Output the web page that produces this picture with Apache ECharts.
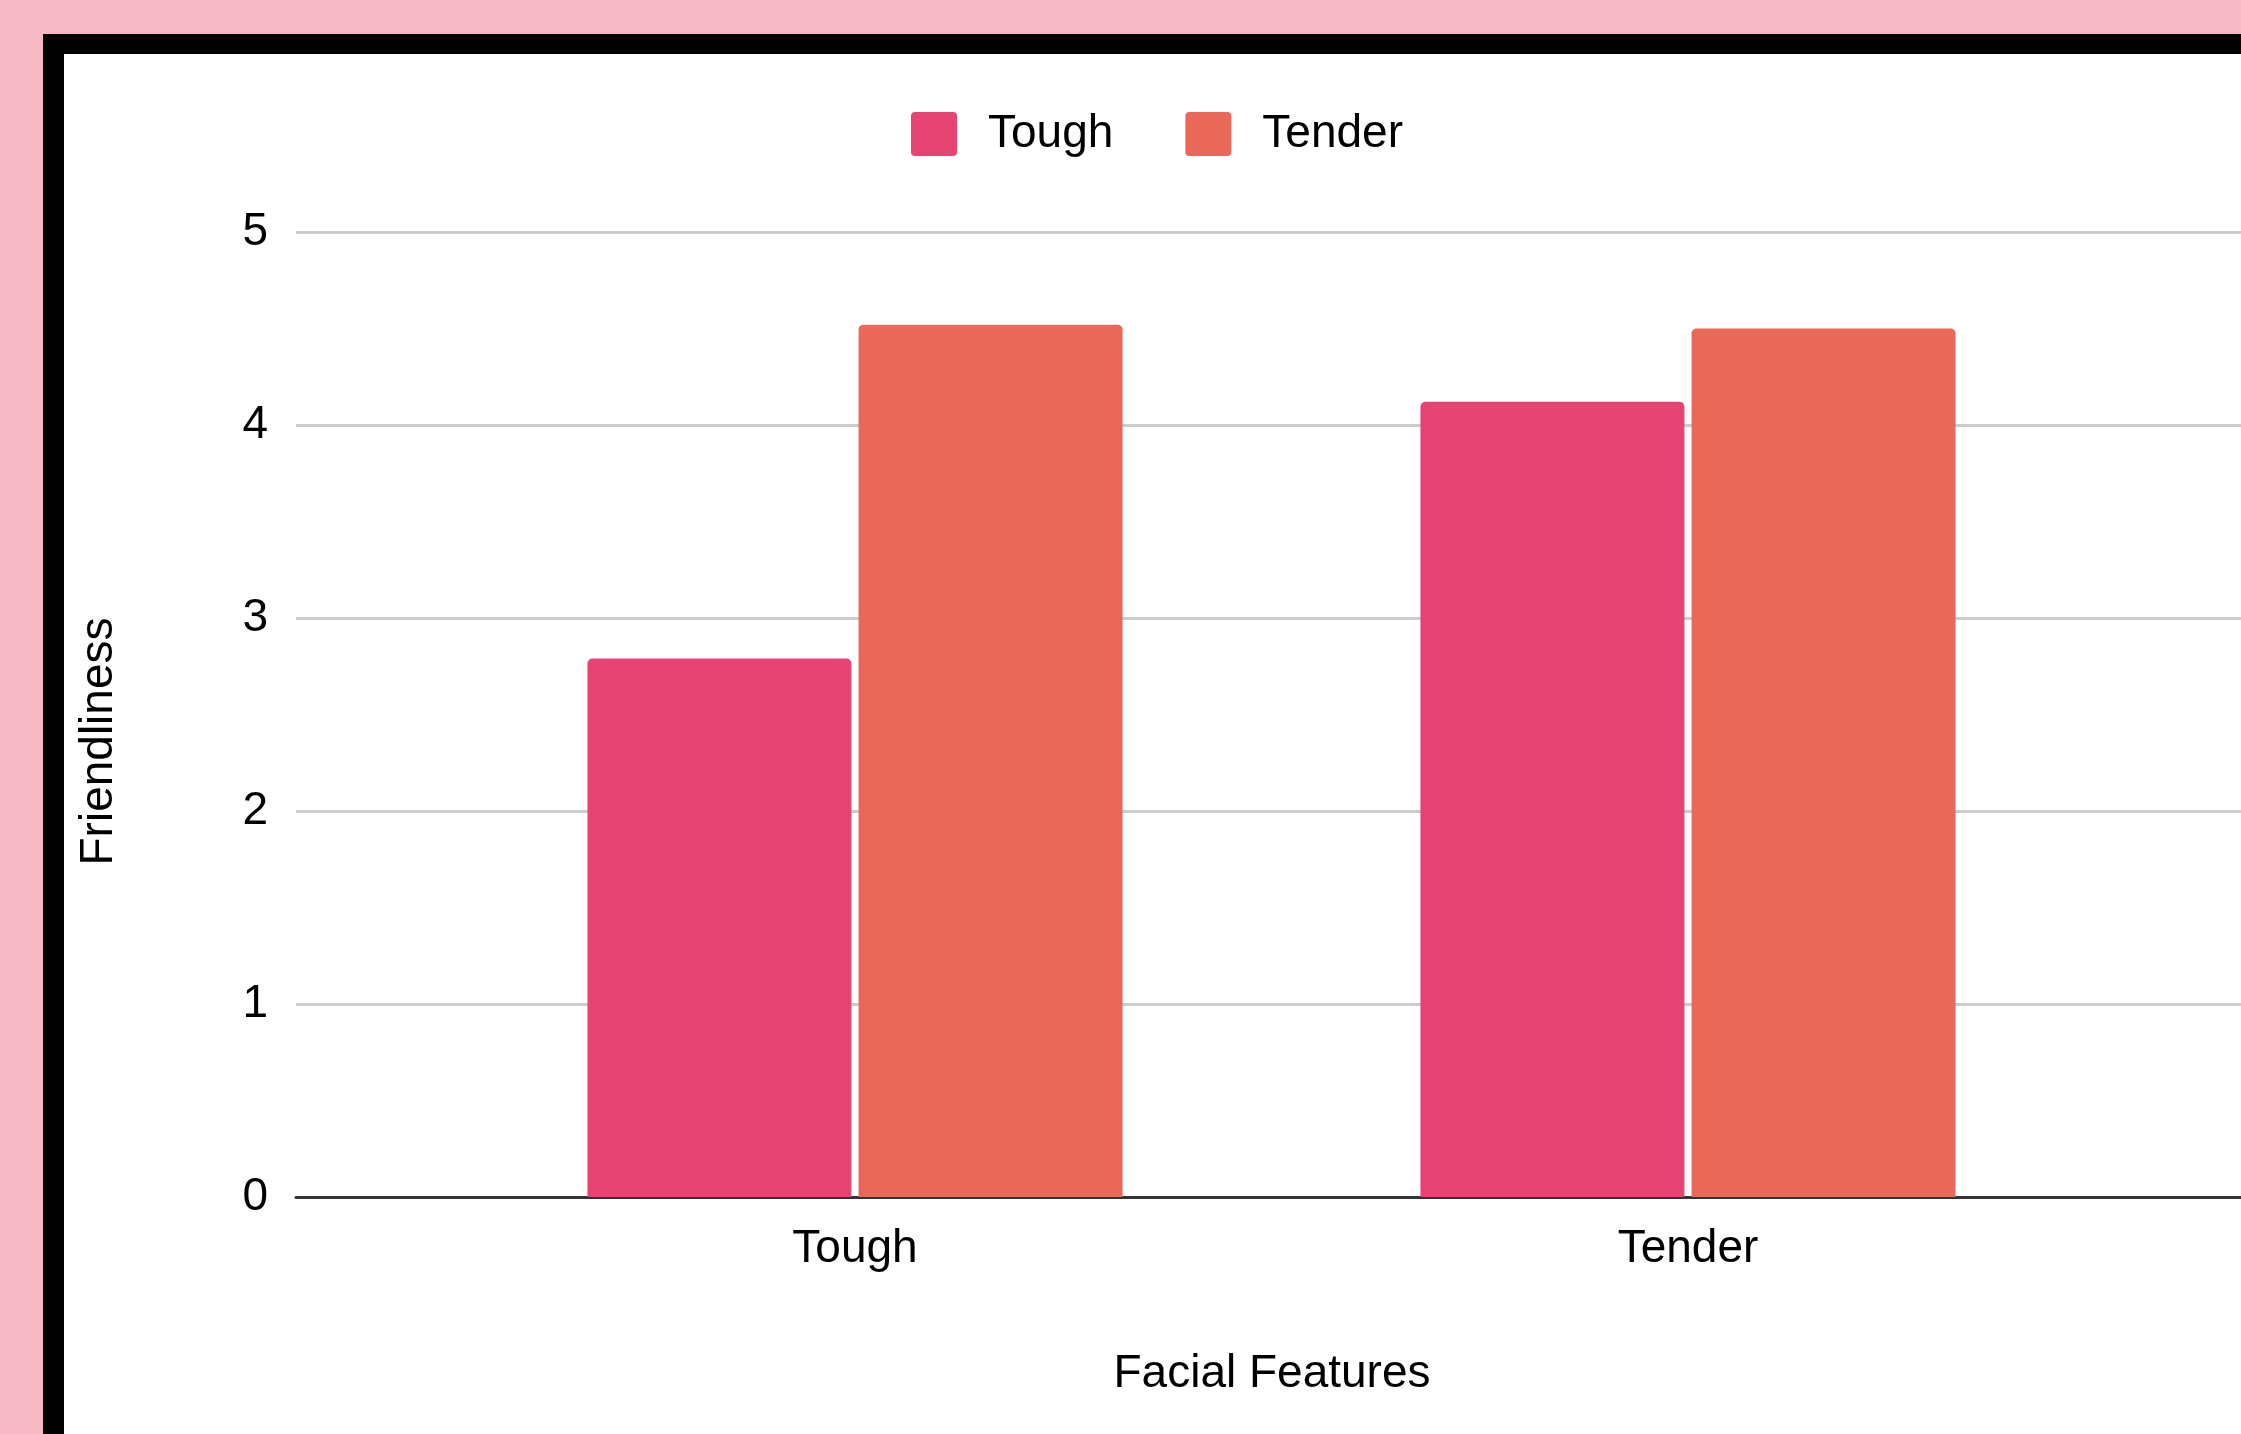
<!DOCTYPE html>
<html>
<head>
<meta charset="utf-8">
<title>Friendliness by Facial Features</title>
<script src="https://cdn.jsdelivr.net/npm/echarts@6/dist/echarts.min.js"></script>
<style>
  html, body {
    margin: 0;
    padding: 0;
    width: 2241px;
    height: 1434px;
    overflow: hidden;
    background: #f5b8c4;
  }
  /* black frame, only top and left are visible in the crop */
  .frame {
    position: absolute;
    left: 43px;
    top: 34px;
    width: 2198px;
    height: 1400px;
    background: #000;
  }
  #chart {
    position: absolute;
    left: 64px;
    top: 54px;
    width: 2177px;
    height: 1380px;
    background: #fff;
  }
</style>
</head>
<body>
<div class="frame"></div>
<div id="chart"></div>
<script>
  // 数据
  const categories = ["Tough", "Tender"];
  const toughValues = [2.79, 4.12];
  const tenderValues = [4.52, 4.5];
  const yTicks = [0, 1, 2, 3, 4, 5];

  const font = "'Liberation Sans', Arial, sans-serif";
  const fontSize = 46;
  // small rounded square for the legend
  const legendIcon =
    "path://M4,0H42A4,4 0 0 1 46,4V40A4,4 0 0 1 42,44H4A4,4 0 0 1 0,40V4A4,4 0 0 1 4,0Z";

  const chart = echarts.init(document.getElementById("chart"));

  const option = {
    animation: false,
    textStyle: { fontFamily: font },
    legend: {
      left: 842,
      top: 52,
      itemWidth: 46,
      itemHeight: 44,
      itemGap: 72,
      icon: legendIcon,
      textStyle: {
        fontSize: fontSize,
        color: "#000",
        fontFamily: font,
        padding: [0, 0, 0, 26],
      },
      data: ["Tough", "Tender"],
    },
    grid: [
      // grid for gridlines + y labels, runs to the right edge
      { left: 232, right: 0, top: 178, height: 965, outerBoundsMode: "none" },
      // grid for the bars
      { left: 374.5, width: 1666, top: 178, height: 965, outerBoundsMode: "none" },
    ],
    xAxis: [
      {
        gridIndex: 0,
        type: "category",
        data: [""],
        axisLine: { lineStyle: { color: "#333", width: 3 } },
        axisTick: { show: false },
        axisLabel: { show: false },
        name: "Facial Features",
        nameLocation: "middle",
        nameGap: 154,
        nameTextStyle: {
          fontSize: fontSize,
          color: "#000",
          fontFamily: font,
          padding: [0, 0, 0, 7],
        },
      },
      {
        gridIndex: 1,
        type: "category",
        data: categories,
        axisLine: { show: false },
        axisTick: { show: false },
        axisLabel: {
          fontSize: fontSize,
          color: "#000",
          margin: 29,
          fontFamily: font,
        },
      },
    ],
    yAxis: [
      {
        gridIndex: 0,
        type: "value",
        min: yTicks[0],
        max: yTicks[yTicks.length - 1],
        interval: 1,
        axisLine: { show: false },
        axisTick: { show: false },
        axisLabel: {
          fontSize: fontSize,
          color: "#000",
          margin: 28,
          fontFamily: font,
        },
        splitLine: { lineStyle: { color: "#cccccc", width: 3 } },
        name: "Friendliness",
        nameLocation: "middle",
        nameRotate: 90,
        nameGap: 174,
        nameTextStyle: {
          fontSize: fontSize,
          color: "#000",
          fontFamily: font,
          padding: [0, 54, 0, 0],
        },
      },
      {
        gridIndex: 1,
        type: "value",
        min: yTicks[0],
        max: yTicks[yTicks.length - 1],
        interval: 1,
        show: false,
        splitLine: { show: false },
      },
    ],
    series: [
      {
        name: "Tough",
        type: "bar",
        xAxisIndex: 1,
        yAxisIndex: 1,
        data: toughValues,
        barWidth: 264,
        barGap: "2.7%",
        itemStyle: { color: "#e64574", borderRadius: [5, 5, 0, 0] },
      },
      {
        name: "Tender",
        type: "bar",
        xAxisIndex: 1,
        yAxisIndex: 1,
        data: tenderValues,
        barWidth: 264,
        barGap: "2.7%",
        itemStyle: { color: "#ea6859", borderRadius: [5, 5, 0, 0] },
      },
    ],
  };

  chart.setOption(option);
</script>
</body>
</html>
